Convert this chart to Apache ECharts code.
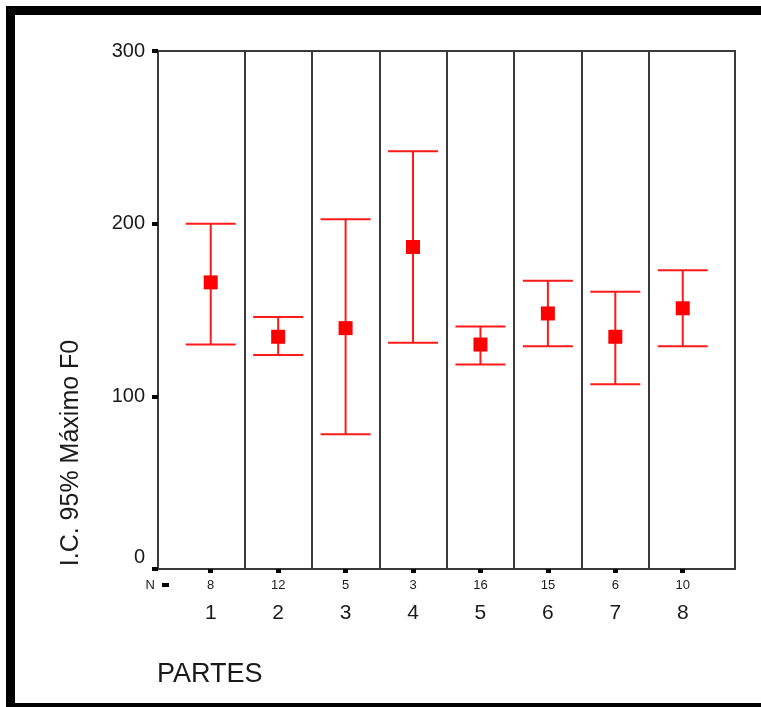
<!DOCTYPE html>
<html>
<head>
<meta charset="utf-8">
<script src="https://cdn.jsdelivr.net/npm/echarts@6/dist/echarts.min.js"></script>
<style>
  html, body { margin: 0; padding: 0; background: #fff; }
  #chart { width: 761px; height: 707px; }
</style>
</head>
<body>
<div id="chart"></div>
<script>
// PARTES 1..8, I.C. 95% of Máximo F0
var partes = [1, 2, 3, 4, 5, 6, 7, 8];
var nValues = [8, 12, 5, 3, 16, 15, 6, 10];
var means = [166, 134.5, 139.5, 186.5, 130, 148, 134.5, 151];
var lower = [130, 124, 78, 131, 118.5, 129, 107, 129];
var upper = [200, 146, 202.5, 242, 140.5, 167, 160.5, 173];
var yTicks = [0, 100, 200, 300];
var dividers = [1.5, 2.5, 3.5, 4.5, 5.5, 6.5, 7.5];

var font = 'Liberation Sans, Arial, sans-serif';
var chart = echarts.init(document.getElementById('chart'));

var barData = [];
var meanData = [];
for (var i = 0; i < partes.length; i++) {
  barData.push([partes[i], lower[i], upper[i]]);
  meanData.push([partes[i], means[i]]);
}

chart.setOption({
  animation: false,
  textStyle: { fontFamily: font },
  grid: {
    left: 158, right: 26, top: 51, bottom: 138,
    show: true, borderColor: '#3a3a3a', borderWidth: 2
  },
  xAxis: {
    type: 'value',
    min: 0.218,
    max: 8.775,
    axisLine: { show: false },
    splitLine: { show: false },
    axisTick: {
      customValues: partes,
      length: 4,
      lineStyle: { color: '#000', width: 5 }
    },
    axisLabel: {
      customValues: partes,
      margin: 8,
      formatter: function (v) {
        var k = partes.indexOf(v);
        return '{n|' + nValues[k] + '}\n{c|' + partes[k] + '}';
      },
      rich: {
        n: { fontSize: 13, lineHeight: 16, color: '#1a1a1a', fontFamily: font },
        c: { fontSize: 21, lineHeight: 41, color: '#1a1a1a', fontFamily: font }
      }
    }
  },
  yAxis: {
    type: 'value',
    min: 0,
    max: 300,
    interval: 100,
    axisLine: { show: true, lineStyle: { color: '#3a3a3a', width: 2 } },
    splitLine: { show: false },
    axisTick: { length: 6, lineStyle: { color: '#000', width: 4 } },
    axisLabel: {
      margin: 13,
      fontSize: 20,
      color: '#1a1a1a',
      formatter: function (v) {
        return v === 0 ? '{z|0}' : String(v);
      },
      rich: {
        z: { fontSize: 20, color: '#1a1a1a', padding: [0, 0, 24, 0], fontFamily: font }
      }
    }
  },
  series: [
    {
      type: 'custom',
      silent: true,
      data: barData,
      renderItem: function (params, api) {
        var x = api.value(0);
        var lo = api.coord([x, api.value(1)]);
        var hi = api.coord([x, api.value(2)]);
        var half = 25;
        var style = { stroke: '#ff1a1a', lineWidth: 2 };
        return {
          type: 'group',
          children: [
            { type: 'line', shape: { x1: lo[0], y1: lo[1], x2: hi[0], y2: hi[1] }, style: style },
            { type: 'line', shape: { x1: hi[0] - half, y1: hi[1], x2: hi[0] + half, y2: hi[1] }, style: style },
            { type: 'line', shape: { x1: lo[0] - half, y1: lo[1], x2: lo[0] + half, y2: lo[1] }, style: style }
          ]
        };
      },
      markLine: {
        silent: true,
        symbol: 'none',
        label: { show: false },
        lineStyle: { color: '#3a3a3a', width: 2, type: 'solid' },
        data: dividers.map(function (d) { return { xAxis: d }; })
      },
      z: 3
    },
    {
      type: 'scatter',
      data: meanData,
      symbol: 'rect',
      symbolSize: 14,
      itemStyle: { color: '#ff0000', opacity: 1 },
      z: 4
    }
  ],
  graphic: [
    { type: 'rect', shape: { x: 6, y: 6, width: 755, height: 9 }, style: { fill: '#000' } },
    { type: 'rect', shape: { x: 6, y: 6, width: 9, height: 701 }, style: { fill: '#000' } },
    { type: 'rect', shape: { x: 6, y: 703, width: 755, height: 4 }, style: { fill: '#000' } },
    {
      type: 'text', x: 155, y: 585,
      style: { text: 'N', fontSize: 13, fontFamily: font, fill: '#1a1a1a', align: 'right', verticalAlign: 'middle' }
    },
    { type: 'rect', shape: { x: 162, y: 583, width: 7, height: 4 }, style: { fill: '#000' } },
    {
      type: 'text', x: 71, y: 453, rotation: Math.PI / 2,
      style: { text: 'I.C. 95% Máximo F0', fontSize: 25, fontFamily: font, fill: '#1a1a1a', align: 'center', verticalAlign: 'middle' }
    },
    {
      type: 'text', x: 157, y: 675,
      style: { text: 'PARTES', fontSize: 27, fontFamily: font, fill: '#1a1a1a', align: 'left', verticalAlign: 'middle' }
    }
  ]
});
</script>
</body>
</html>
